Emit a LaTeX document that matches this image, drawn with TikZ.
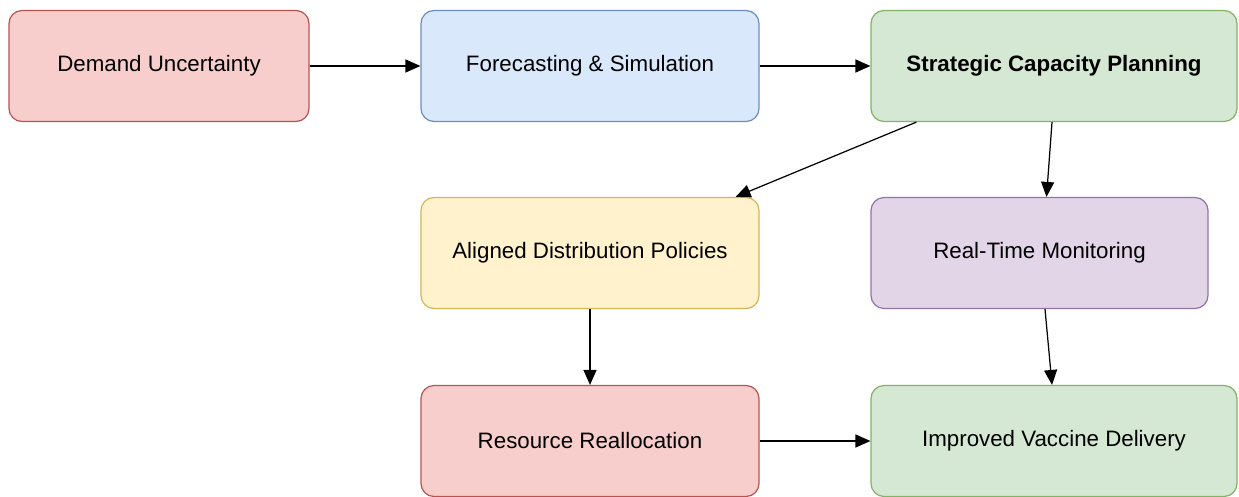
\documentclass[tikz,border=0pt]{standalone}
\usepackage{fontspec}
\setmainfont{Liberation Sans}
\usetikzlibrary{arrows.meta,calc}
\definecolor{redfill}{HTML}{F8CECC}
\definecolor{redline}{HTML}{B85450}
\definecolor{bluefill}{HTML}{DAE8FC}
\definecolor{blueline}{HTML}{6C8EBF}
\definecolor{greenfill}{HTML}{D5E8D4}
\definecolor{greenline}{HTML}{82B366}
\definecolor{yellowfill}{HTML}{FFF2CC}
\definecolor{yellowline}{HTML}{D6B656}
\definecolor{purplefill}{HTML}{E1D5E7}
\definecolor{purpleline}{HTML}{9673A6}
\tikzset{>={Triangle[length=8.5pt,width=7.4pt]}}
\tikzstyle{stage}=[rectangle,line width=0.7pt,rounded corners=0.26cm,minimum height=2.22cm,font=\fontsize{12.7}{15}\selectfont]
\tikzstyle{flow}=[->,line width=0.7pt,black]

\begin{document}
\begin{tikzpicture}
	\def \rowa {-1.32};
	\def \rowb {-5.06};
	\def \rowc {-8.82};
	\def \colmid {11.8};
	\def \colright {21.08};
	\useasboundingbox (0,0) rectangle (24.78,-9.94);
	
	\node[stage, draw=redline, fill=redfill, minimum width=6cm] (demand) at (3.18, \rowa) {Demand Uncertainty};
	\node[stage, draw=blueline, fill=bluefill, minimum width=6.76cm] (forecast) at (\colmid, \rowa) {Forecasting \& Simulation};
	\node[stage, draw=greenline, fill=greenfill, minimum width=7.32cm] (capacity) at (\colright, \rowa) {\bfseries Strategic Capacity Planning};
	
	\node[stage, draw=yellowline, fill=yellowfill, minimum width=6.76cm] (policies) at (\colmid, \rowb) {Aligned Distribution Policies};
	\node[stage, draw=purpleline, fill=purplefill, minimum width=6.74cm] (monitor) at (20.79, \rowb) {Real-Time Monitoring};
	
	\node[stage, draw=redline, fill=redfill, minimum width=6.76cm] (realloc) at (\colmid, \rowc) {Resource Reallocation};
	\node[stage, draw=greenline, fill=greenfill, minimum width=7.32cm] (delivery) at (\colright, \rowc) {Improved Vaccine Delivery};
	
	\draw[flow] (demand) -- (forecast);
	\draw[flow] (forecast) -- (capacity);
	\draw[flow] ([xshift=0.92cm]capacity.south west) -- ([xshift=-0.48cm]policies.north east);
	\draw[flow] ([xshift=-0.04cm]capacity.south) -- ([xshift=0.14cm]monitor.north);
	\draw[flow] (policies) -- (realloc);
	\draw[flow] ([xshift=0.11cm]monitor.south) -- ([xshift=-0.04cm]delivery.north);
	\draw[flow] (realloc) -- (delivery);
\end{tikzpicture}
\end{document}
